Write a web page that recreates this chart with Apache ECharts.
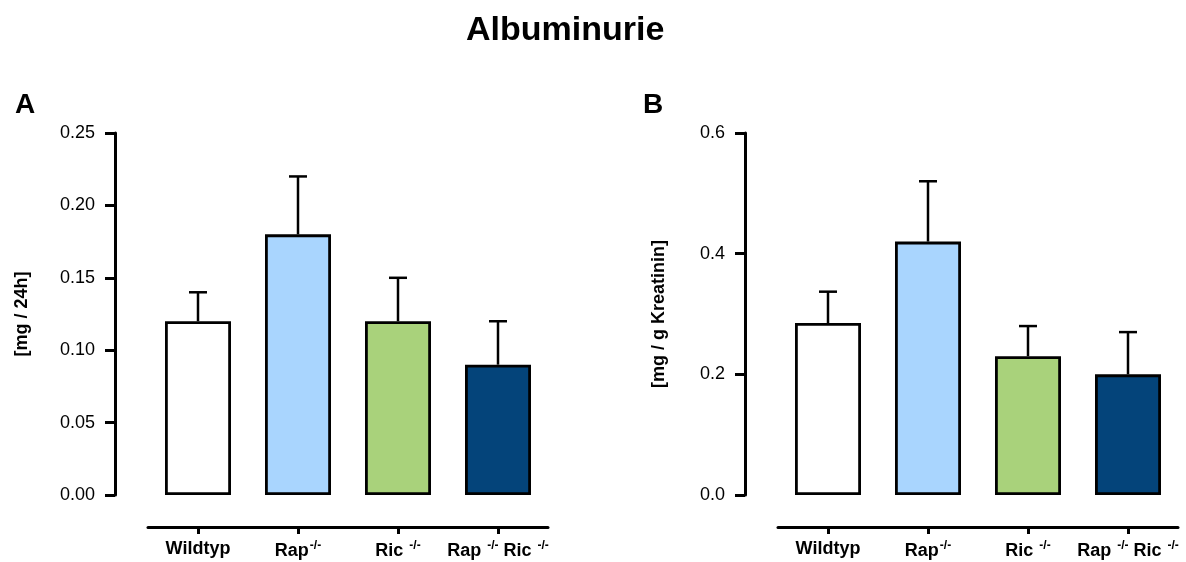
<!DOCTYPE html>
<html>
<head>
<meta charset="utf-8">
<script src="https://cdn.jsdelivr.net/npm/echarts@6/dist/echarts.min.js"></script>
<style>
  html, body { margin: 0; padding: 0; background: #fff; }
  #chart { width: 1186px; height: 562px; }
</style>
</head>
<body>
<div id="chart"></div>
<script>
// Groups shown on both panels
const categories = ['Wildtyp', 'Rap', 'Ric', 'RapRic'];
const categoryLabels = ['Wildtyp', '{m|Rap}{s|-/-}', '{m|Ric }{s|-/-}', '{m|Rap }{s|-/-}{m| Ric }{s|-/-}'];
const barColors = ['#ffffff', '#a9d5fe', '#a9d27b', '#04447a'];

// Panel A: albumin excretion per 24 h (mean, SEM)
const meanA = [0.12, 0.18, 0.12, 0.09];
const semA = [0.02, 0.04, 0.03, 0.03];
const ticksA = { min: 0, max: 0.25, interval: 0.05 };

// Panel B: albumin per g creatinine (mean, SEM)
const meanB = [0.285, 0.42, 0.23, 0.20];
const semB = [0.052, 0.10, 0.05, 0.07];
const ticksB = { min: 0, max: 0.6, interval: 0.2 };

const FONT = 'Liberation Sans, Arial, Helvetica, sans-serif';

function barData(means) {
  return means.map((v, i) => ({
    value: v,
    itemStyle: { color: barColors[i], borderColor: '#000', borderWidth: 2.8 }
  }));
}

function errorData(means, sems) {
  return means.map((v, i) => [i, v, v + sems[i]]);
}

function renderError(params, api) {
  const base = api.coord([api.value(0), api.value(1)]);
  const top = api.coord([api.value(0), api.value(2)]);
  const half = 9;
  const style = { stroke: '#000', lineWidth: 2.5 };
  return {
    type: 'group',
    children: [
      { type: 'line', shape: { x1: base[0], y1: base[1], x2: top[0], y2: top[1] }, style },
      { type: 'line', shape: { x1: top[0] - half, y1: top[1], x2: top[0] + half, y2: top[1] }, style }
    ]
  };
}

function xAxisFor(gridIndex) {
  return {
    type: 'category',
    gridIndex,
    data: categories,
    position: 'bottom',
    offset: 32,
    axisLine: { onZero: false, lineStyle: { color: '#000', width: 3 } },
    axisTick: { show: true, inside: false, alignWithLabel: true, interval: 0, length: 7, lineStyle: { color: '#000', width: 3 } },
    axisLabel: {
      margin: 13,
      interval: 0,
      formatter: (val, idx) => categoryLabels[idx],
      color: '#000',
      fontFamily: FONT,
      fontWeight: 'bold',
      fontSize: 18,
      rich: {
        m: { fontFamily: FONT, fontWeight: 'bold', fontSize: 18, color: '#000', lineHeight: 22 },
        s: { fontFamily: FONT, fontWeight: 'bold', fontSize: 12, color: '#000', verticalAlign: 'top', lineHeight: 22, padding: [0, 0, 10, 1] }
      }
    },
    splitLine: { show: false }
  };
}

function yAxisFor(gridIndex, ticks, name, nameGap, decimals) {
  return {
    type: 'value',
    gridIndex,
    min: ticks.min,
    max: ticks.max,
    interval: ticks.interval,
    offset: 33,
    name,
    nameLocation: 'middle',
    nameGap,
    nameRotate: 90,
    nameTextStyle: { fontFamily: FONT, fontWeight: 'bold', fontSize: 18, color: '#000' },
    axisLine: { show: true, lineStyle: { color: '#000', width: 3 } },
    axisTick: { show: true, length: 10, lineStyle: { color: '#000', width: 3 } },
    axisLabel: {
      margin: 20,
      color: '#000',
      fontFamily: FONT,
      fontSize: 18,
      formatter: v => v.toFixed(decimals)
    },
    splitLine: { show: false }
  };
}

const chart = echarts.init(document.getElementById('chart'), null, { renderer: 'canvas' });

chart.setOption({
  animation: false,
  backgroundColor: '#fff',
  title: [
    { text: 'Albuminurie', left: 461, top: 9, textStyle: { fontFamily: FONT, fontWeight: 'bold', fontSize: 34, color: '#000' } },
    { text: 'A', left: 10, top: 86, textStyle: { fontFamily: FONT, fontWeight: 'bold', fontSize: 28, color: '#000' } },
    { text: 'B', left: 638, top: 86, textStyle: { fontFamily: FONT, fontWeight: 'bold', fontSize: 28, color: '#000' } }
  ],
  grid: [
    { left: 148, width: 400, top: 133, bottom: 67, containLabel: false },
    { left: 778, width: 400, top: 133, bottom: 67, containLabel: false }
  ],
  xAxis: [xAxisFor(0), xAxisFor(1)],
  yAxis: [
    yAxisFor(0, ticksA, '[mg / 24h]', 84, 2),
    yAxisFor(1, ticksB, '[mg / g Kreatinin]', 77, 1)
  ],
  series: [
    { type: 'bar', xAxisIndex: 0, yAxisIndex: 0, barWidth: 66, data: barData(meanA), z: 2 },
    { type: 'custom', xAxisIndex: 0, yAxisIndex: 0, renderItem: renderError, data: errorData(meanA, semA), z: 3 },
    { type: 'bar', xAxisIndex: 1, yAxisIndex: 1, barWidth: 66, data: barData(meanB), z: 2 },
    { type: 'custom', xAxisIndex: 1, yAxisIndex: 1, renderItem: renderError, data: errorData(meanB, semB), z: 3 }
  ]
});
</script>
</body>
</html>
